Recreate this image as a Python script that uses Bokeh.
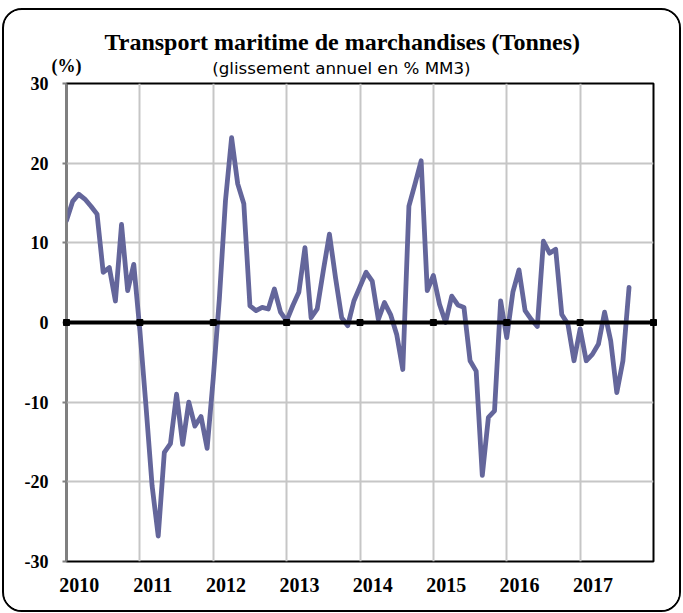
from bokeh.plotting import figure
from bokeh.models import Range1d, FixedTicker, Span, Title, LinearAxis
from bokeh.embed import file_html
from bokeh.resources import INLINE

# Monthly year-on-year change (%, 3-month moving average), Jan 2010 - Sep 2017
values_2010 = [12.8, 15.2, 16.1, 15.5, 14.6, 13.6, 6.3, 6.9, 2.7, 12.3, 4.0, 7.3]
values_2011 = [-1.0, -10.5, -20.5, -26.8, -16.3, -15.2, -9.0, -15.3, -10.0, -13.0, -11.8, -15.8]
values_2012 = [-7.0, 3.0, 15.3, 23.2, 17.4, 14.9, 2.1, 1.5, 1.9, 1.7, 4.2, 1.3]
values_2013 = [0.2, 2.1, 3.8, 9.4, 0.6, 1.7, 6.5, 11.1, 5.6, 0.6, -0.4, 2.7]
values_2014 = [4.5, 6.3, 5.2, 0.4, 2.5, 1.0, -1.5, -5.9, 14.6, 17.4, 20.3, 4.0]
values_2015 = [5.9, 2.3, 0.0, 3.3, 2.2, 1.9, -4.8, -6.1, -19.2, -11.9, -11.1, 2.7]
values_2016 = [-1.9, 3.8, 6.6, 1.5, 0.4, -0.5, 10.2, 8.7, 9.2, 1.0, -0.2, -4.8]
values_2017 = [-0.8, -4.8, -4.0, -2.7, 1.3, -2.3, -8.8, -4.8, 4.4]

values = (values_2010 + values_2011 + values_2012 + values_2013 +
          values_2014 + values_2015 + values_2016 + values_2017)
x_months = [2010 + i / 12 for i in range(len(values))]

years = [2010, 2011, 2012, 2013, 2014, 2015, 2016, 2017, 2018]
year_labels = ["2010", "2011", "2012", "2013", "2014", "2015", "2016", "2017"]
y_ticks = [-30, -20, -10, 0, 10, 20, 30]
y_tick_labels = ["-30", "-20", "-10", "0", "10", "20", "30"]

title_text = "Transport maritime de marchandises (Tonnes)"
subtitle_text = "(glissement annuel en % MM3)"
unit_text = "(%)"

LINE_COLOR = "#64669b"
GRID_COLOR = "#c6c6c6"
SERIF = "Liberation Serif"
PAD = "\u00a0" * 7   # shifts the centred subtitle to the chart's centre

p = figure(width=679, height=604, output_backend="svg", toolbar_location=None,
           title=None,
           x_range=Range1d(2010, 2018), y_range=Range1d(-30, 30),
           min_border_left=62, min_border_right=30, min_border_top=73,
           min_border_bottom=53,
           styles={"border": "2px solid black", "border-radius": "20px",
                   "margin-left": "2px", "margin-top": "8px",
                   "overflow": "hidden"})
p.background_fill_color = "white"
p.border_fill_color = "white"
p.outline_line_color = "black"
p.outline_line_width = 2

# top axis: carries the unit "(%)" above the y axis and the subtitle as its label
top_axis = LinearAxis(
    ticker=FixedTicker(ticks=[years[0]]),
    major_label_overrides={years[0]: unit_text},
    axis_line_color=None, major_tick_line_color=None, minor_tick_line_color=None,
    major_tick_in=0, major_tick_out=0, major_label_standoff=8,
    major_label_text_font=SERIF, major_label_text_font_style="bold",
    major_label_text_font_size="18px", major_label_text_color="black",
    axis_label=subtitle_text + PAD, axis_label_standoff=-25,
    axis_label_text_font="DejaVu Sans", axis_label_text_font_size="16.7px",
    axis_label_text_font_style="normal", axis_label_text_color="black")
p.add_layout(top_axis, "above")

main = Title(text=title_text, align="left", offset=38,
             text_font=SERIF, text_font_size="24px",
             text_font_style="bold", text_color="black", standoff=0)
p.add_layout(main, "above")

# grids
p.xgrid.ticker = FixedTicker(ticks=years[1:-1])
p.xgrid.grid_line_color = GRID_COLOR
p.xgrid.grid_line_width = 2
p.ygrid.ticker = FixedTicker(ticks=[t for t in y_ticks if t not in (-30, 0, 30)])
p.ygrid.grid_line_color = GRID_COLOR
p.ygrid.grid_line_width = 2

# y axis
yax = p.yaxis[0]
yax.ticker = FixedTicker(ticks=y_ticks)
yax.major_label_overrides = {t: lab for t, lab in zip(y_ticks, y_tick_labels)}
yax.axis_line_color = "#808080"
yax.axis_line_width = 2
yax.major_tick_line_color = "#808080"
yax.major_tick_line_width = 2
yax.major_tick_in = 0
yax.major_tick_out = 4
yax.minor_tick_line_color = None
yax.major_label_standoff = 14
yax.major_label_text_font = SERIF
yax.major_label_text_font_style = "bold"
yax.major_label_text_font_size = "18px"
yax.major_label_text_color = "black"

# bottom axis: year labels shifted into the year
xax = p.below[0]
label_pos = [yr + 0.175 for yr in years[:-1]]
xax.ticker = FixedTicker(ticks=label_pos)
xax.major_label_overrides = {pos: lab for pos, lab in zip(label_pos, year_labels)}
xax.axis_line_color = None
xax.major_tick_line_color = None
xax.minor_tick_line_color = None
xax.major_tick_out = 0
xax.major_tick_in = 0
xax.major_label_standoff = 16
xax.major_label_text_font = SERIF
xax.major_label_text_font_style = "bold"
xax.major_label_text_font_size = "20px"
xax.major_label_text_color = "black"

# series
p.line(x_months, values, line_color=LINE_COLOR, line_width=4.8,
       line_join="round", line_cap="round")

# zero axis line with year tick marks
p.add_layout(Span(location=0, dimension="width", line_color="black", line_width=4))
p.scatter(years, [0] * len(years), marker="square", size=6, color="black",
          level="overlay")

open("out.html", "w").write(file_html(p, INLINE))
